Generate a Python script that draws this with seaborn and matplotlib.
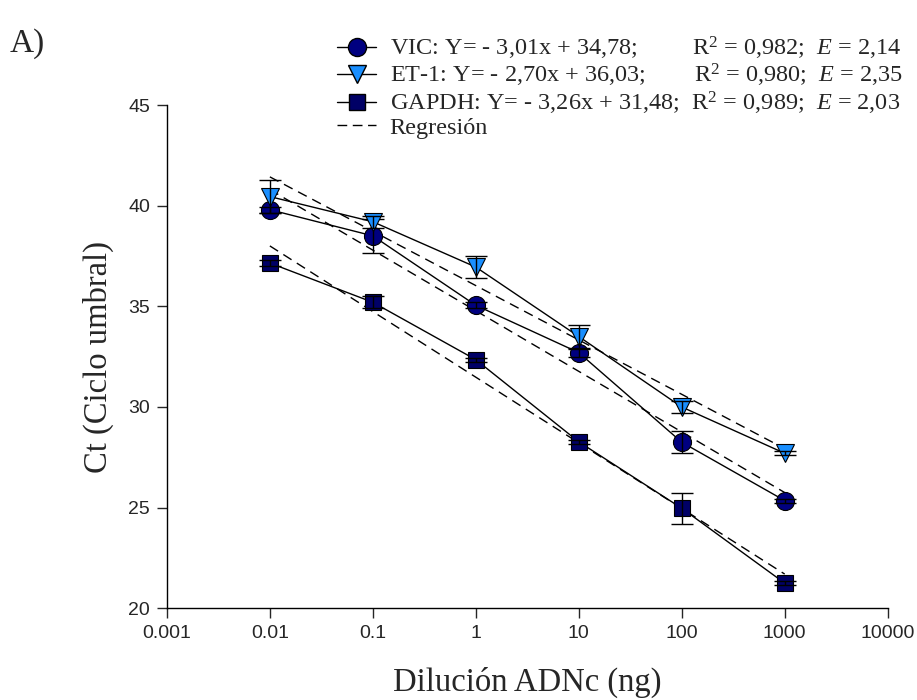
import numpy as np
import pandas as pd
import seaborn as sns
from matplotlib import pyplot as plt
from matplotlib.lines import Line2D

# datos
dilucion = [0.01, 0.1, 1, 10, 100, 1000]
vic = [39.8, 38.5, 35.05, 32.7, 28.25, 25.35]
vic_err = [0.15, 0.85, 0.15, 0.2, 0.55, 0.1]
et1 = [40.45, 39.2, 36.95, 33.5, 30.0, 27.7]
et1_err = [0.8, 0.3, 0.55, 0.55, 0.3, 0.1]
gapdh = [37.15, 35.2, 32.35, 28.27, 24.97, 21.25]
gapdh_err = [0.15, 0.3, 0.1, 0.1, 0.78, 0.1]

genes = ['VIC', 'ET-1', 'GAPDH']
pendiente = [-3.01, -2.70, -3.26]
intercepto = [34.78, 36.03, 31.48]
ecuaciones = ['VIC: Y= - 3,01x + 34,78;', 'ET-1: Y= - 2,70x + 36,03;',
              'GAPDH: Y= - 3,26x + 31,48;']
ajustes = ['R$^2$ = 0,982;  $E$ = 2,14', 'R$^2$ = 0,980;  $E$ = 2,35',
           'R$^2$ = 0,989;  $E$ = 2,03']
espacios = [9, 8, 2]
xticks = [0.001, 0.01, 0.1, 1, 10, 100, 1000, 10000]
xtick_labels = ['0.001', '0.01', '0.1', '1', '10', '100', '1000', '10000']

sns.set_style('ticks')
plt.rcParams['font.family'] = ['Liberation Sans', 'DejaVu Sans']
plt.rcParams['mathtext.fontset'] = 'custom'
plt.rcParams['mathtext.rm'] = 'Liberation Serif'
plt.rcParams['mathtext.it'] = 'Liberation Serif:italic'

marcadores = ['o', 'v', 's']
colores = ['#000080', '#1A8FFF', '#000066']
tamanos = [13, 13, 12]
valores = [vic, et1, gapdh]
errores = [vic_err, et1_err, gapdh_err]

fig = plt.figure(figsize=(9.17, 7), dpi=100)
ax = fig.add_axes([0.182, 0.131, 0.786, 0.719])

# rectas de regresion
x = np.array(dilucion)
for m, b in zip(pendiente, intercepto):
    sns.lineplot(x=x, y=m * np.log10(x) + b, ax=ax, color='black',
                 linewidth=1, linestyle=(0, (7, 4.5)))

# series con barras de error
for g, y, e, mk, c, s in zip(genes, valores, errores, marcadores, colores, tamanos):
    df = pd.DataFrame({'x': dilucion, 'y': y})
    sns.lineplot(data=df, x='x', y='y', ax=ax, color='black', linewidth=1,
                 marker=mk, markersize=s, markerfacecolor=c,
                 markeredgecolor='black', markeredgewidth=0.8)
    ax.errorbar(dilucion, y, yerr=e, fmt='none', ecolor='black',
                elinewidth=1, capsize=8, capthick=1)

ax.set_xscale('log')
ax.set_xlim(0.001, 10000)
ax.set_ylim(20, 45)
ax.set_xticks(xticks)
ax.set_xticklabels(xtick_labels)
ax.minorticks_off()
ax.set_yticks([20, 25, 30, 35, 40, 45])
ax.tick_params(direction='out', length=7, width=1, labelsize=14, pad=5)
for sp in ['top', 'right']:
    ax.spines[sp].set_visible(False)
for sp in ['left', 'bottom']:
    ax.spines[sp].set_linewidth(1)
    ax.spines[sp].set_color('black')

ax.set_xlabel('Dilución ADNc (ng)', family='Liberation Serif', fontsize=23.5, labelpad=18)
ax.set_ylabel('Ct (Ciclo umbral)', family='Liberation Serif', fontsize=23.5, labelpad=10)

fig.text(0.011, 0.926, 'A)', family='Liberation Serif', fontsize=24)

handles = []
for mk, c, s in zip(marcadores, colores, tamanos):
    handles.append(Line2D([], [], color='black', linewidth=1, marker=mk,
                          markersize=s, markerfacecolor=c, markeredgecolor='black'))
handles.append(Line2D([], [], color='black', linewidth=1, linestyle=(0, (7, 4))))
etiquetas = [eq + ' ' * n + aj for eq, n, aj in zip(ecuaciones, espacios, ajustes)]
fig.legend(handles, etiquetas + ['Regresión'], loc='upper left',
           bbox_to_anchor=(0.368, 0.95), frameon=False,
           prop={'family': 'Liberation Serif', 'size': 17.5},
           handlelength=1.6, handletextpad=0.55, labelspacing=0.0,
           borderpad=0, borderaxespad=0)

plt.savefig('out.png', dpi=100)
